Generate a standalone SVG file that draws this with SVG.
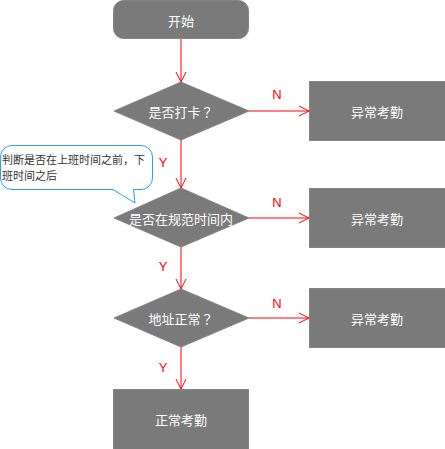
<svg xmlns="http://www.w3.org/2000/svg" width="445" height="449" viewBox="0 0 445 449">
<style>
.n{fill:#7a7a7a;stroke:#858585;stroke-width:1}
.t{fill:#ffffff;font-family:"Noto Sans CJK JP","Noto Sans CJK SC","Liberation Sans",sans-serif;font-size:13px;text-anchor:middle;dominant-baseline:central}
.c{fill:none;stroke:#ff0000;stroke-width:1}
.l{fill:#ff0000;font-family:"Liberation Sans",sans-serif;font-size:13px;text-anchor:middle;dominant-baseline:central}
.note{fill:#ffffff;stroke:#2aa0ee;stroke-width:1}
.nt{fill:#333333;font-family:"Noto Sans CJK JP","Noto Sans CJK SC","Liberation Sans",sans-serif;font-size:11px}
</style>
<defs>
<marker id="ah" viewBox="0 0 12 12" refX="11" refY="6" markerWidth="12" markerHeight="12" markerUnits="userSpaceOnUse" orient="auto">
<path d="M1,1 L11,6 L1,11" fill="none" stroke="#ff0000" stroke-width="1"/>
</marker>
</defs>
<g id="connectors">
<path class="c" d="M181,39 V82" marker-end="url(#ah)"/>
<path class="c" d="M249,111 H309" marker-end="url(#ah)"/>
<path class="c" d="M181,140 V188" marker-end="url(#ah)"/>
<path class="c" d="M249,218 H309" marker-end="url(#ah)"/>
<path class="c" d="M181,247 V289" marker-end="url(#ah)"/>
<path class="c" d="M249,318 H309" marker-end="url(#ah)"/>
<path class="c" d="M181,347 V389" marker-end="url(#ah)"/>
<text class="l" x="277" y="94">N</text>
<text class="l" x="163" y="162">Y</text>
<text class="l" x="277" y="202">N</text>
<text class="l" x="163" y="266">Y</text>
<text class="l" x="277" y="303">N</text>
<text class="l" x="163" y="367">Y</text>
</g>
<g id="start">
<rect class="n" x="113.5" y="0.5" width="135" height="38" rx="10"/>
<text class="t" x="181" y="20">开始</text>
</g>
<g id="d1">
<polygon class="n" points="181,82 249,111 181,140 114,111"/>
<text class="t" x="181" y="111">是否打卡？</text>
</g>
<g id="e1">
<rect class="n" x="309.5" y="81.5" width="136" height="59"/>
<text class="t" x="377" y="111">异常考勤</text>
</g>
<g id="note">
<path class="note" d="M12,145.5 H141 A11.5,11.5 0 0 1 152.5,157 V178 A11.5,11.5 0 0 1 141,189.5 H133.5 L135,203 L113,189.5 H12 A11.5,11.5 0 0 1 0.5,178 V157 A11.5,11.5 0 0 1 12,145.5 Z"/>
<text class="nt" x="2" y="164">判断是否在上班时间之前，下</text>
<text class="nt" x="2" y="180">班时间之后</text>
</g>
<g id="d2">
<polygon class="n" points="181,188 249,218 181,247 114,218"/>
<text class="t" x="181" y="218">是否在规范时间内</text>
</g>
<g id="e2">
<rect class="n" x="309.5" y="188.5" width="136" height="59"/>
<text class="t" x="377" y="218">异常考勤</text>
</g>
<g id="d3">
<polygon class="n" points="181,289 249,318 181,347 114,318"/>
<text class="t" x="181" y="318">地址正常？</text>
</g>
<g id="e3">
<rect class="n" x="309.5" y="288.5" width="136" height="59"/>
<text class="t" x="377" y="318">异常考勤</text>
</g>
<g id="ok">
<rect class="n" x="113.5" y="389.5" width="135" height="60"/>
<text class="t" x="181" y="419">正常考勤</text>
</g>
</svg>
